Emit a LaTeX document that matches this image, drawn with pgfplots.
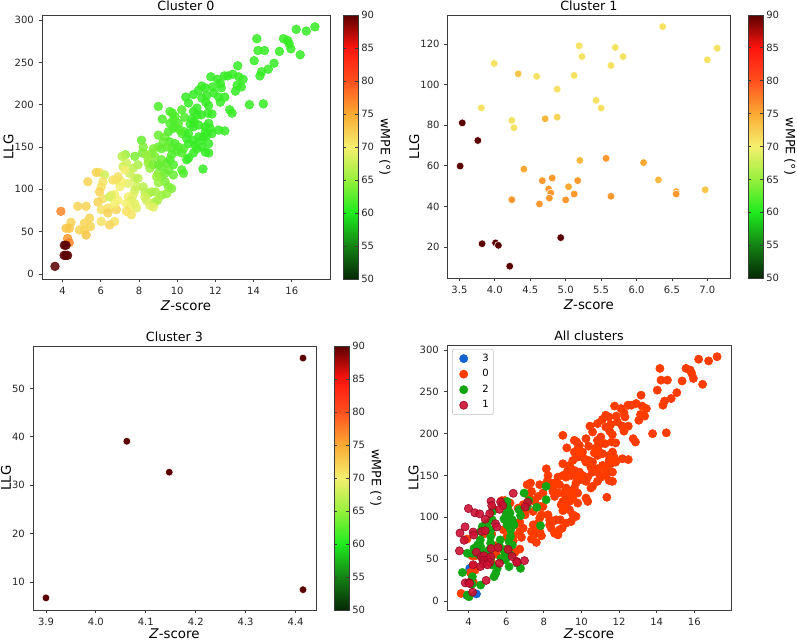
\documentclass[border=0pt]{standalone}
\usepackage{pgfplots}
\pgfplotsset{compat=1.18}
\usepackage{pgfplotstable}
\usepackage{fontspec}
\setmainfont{DejaVu Sans}
\definecolor{cthree}{RGB}{20,100,210}
\definecolor{czero}{RGB}{255,60,0}
\definecolor{ctwo}{RGB}{20,165,20}
\definecolor{cone}{RGB}{205,15,50}
\definecolor{framec}{RGB}{60,60,60}

\pgfplotstableread{
x y c
17.21 292 61
16.76 287 61
16.23 289 61
14.17 278 61
15.56 278 61
15.78 276 61
15.86 272 61
15.95 266 61
16.44 259 61
14.23 264 61
14.57 264 61
15.35 263 61
14.03 252 61
15.07 249 61
14.77 242 61
14.42 239 61
14.33 234 61
13.17 246 61
11.76 233 61
12.47 234 61
12.65 234 61
12.91 236 61
13.22 233 61
13.45 230 61
13.14 223 61
13.36 221 61
13.05 216 61
12.10 230 61
11.29 222 61
11.46 220 61
11.11 217 61
10.85 212 61
11.85 221 61
11.91 214 61
12.26 225 61
12.31 220 61
12.17 209 61
12.26 203 61
12.49 209 61
11.55 211 61
11.50 203 61
11.29 208 61
11.64 199 61
11.61 190 61
11.82 189 61
11.03 196 61
10.85 192 61
11.03 188 61
12.75 194 61
12.87 190 61
13.78 200 61
14.51 201 61
10.45 209 61
10.59 202 61
11.26 188 61
10.24 194 62
10.38 185 62
10.77 183 61
10.89 180 61
10.68 177 61
10.85 174 61
11.12 176 61
11.47 174 61
11.65 178 61
11.73 172 61
11.47 168 61
11.56 164 61
11.38 162 61
11.82 166 61
12.17 170 61
12.49 169 61
9.89 186 62
9.62 192 62
9.75 190 62
9.80 182 62
9.89 174 62
10.06 178 62
9.80 172 62
10.15 170 62
10.24 166 62
10.38 168 62
10.59 166 61
10.50 160 61
10.59 154 61
10.85 158 61
10.94 152 61
11.12 162 61
11.29 158 61
11.03 148 61
11.29 150 61
11.65 154 61
11.47 144 61
11.65 143 61
10.85 143 61
10.59 137 61
10.50 135 61
11.35 124 61
9.01 198 62
9.22 183 62
9.62 178 62
9.54 168 62
9.36 162 63
9.62 156 62
9.89 154 62
10.06 150 62
10.33 148 62
10.24 143 62
9.98 145 62
9.71 149 62
9.45 150 63
9.18 148 63
9.01 150 63
9.27 156 63
9.01 164 63
9.18 135 63
8.83 139 64
8.75 148 64
8.66 142 64
8.48 135 65
8.13 158 63
8.22 150 64
8.17 143 64
8.39 141 65
8.48 131 65
8.57 125 65
8.75 129 64
9.01 129 63
9.18 127 63
9.45 131 63
9.62 135 62
9.71 141 62
9.80 129 62
9.54 123 63
9.36 119 63
9.01 119 64
9.18 115 64
9.36 109 64
9.01 108 65
8.92 115 65
9.54 103 64
9.71 101 64
9.45 95 65
9.18 93 65
8.87 97 66
9.80 117 63
10.33 119 62
10.24 123 62
7.78 139 64
7.95 129 66
7.69 125 67
7.51 119 68
7.78 113 68
7.87 103 68
7.78 99 68
7.69 93 69
7.43 91 70
7.60 87 69
7.51 80 70
7.34 83 70
7.78 83 69
7.87 78 69
7.60 70 71
7.34 74 71
7.16 127 68
7.29 141 65
7.11 139 67
7.34 131 68
7.25 123 70
7.43 107 69
7.08 109 70
6.90 115 71
6.81 111 71
7.00 103 70
6.72 94 70
6.90 87 70
6.81 76 72
6.72 62 71
6.46 58 72
7.95 113 67
8.22 103 67
8.31 97 67
8.48 95 67
8.66 97 66
8.39 87 68
8.57 81 69
8.83 85 67
8.97 87 66
8.75 79 69
8.31 91 68
5.93 120 71
5.76 120 72
6.20 117 68
6.11 109 71
6.02 103 71
5.93 97 72
6.11 89 71
5.85 85 72
6.02 76 71
6.37 78 71
6.37 72 72
6.02 62 71
6.46 91 68
6.72 83 70
6.55 93 69
6.63 111 71
5.32 109 72
5.23 80 72
5.41 66 72
5.46 56 72
5.14 60 72
5.14 52 72
5.23 46 73
4.88 52 72
4.79 80 72
4.44 61 72
4.18 54 73
4.35 54 73
4.26 42 76
4.35 37 77
4.18 34 90
4.09 34 90
3.91 74 77
4.08 22 90
4.17 22 90
4.26 22 90
3.60 9 90
}\clusterzero

\pgfplotstableread{
x y c
6.37 128.7 71
7.14 118.0 71
7.00 112.3 71
5.19 119.2 71
5.23 113.9 71
5.70 118.4 71
5.81 113.9 71
5.64 109.5 71
5.12 104.6 71
3.99 110.5 71
4.33 105.4 73
4.59 104.1 71
4.88 97.8 71
5.43 92.3 71
5.50 88.5 71
3.81 88.6 71
4.24 82.4 71
4.27 78.8 71
4.71 83.2 74
4.88 84.0 72
3.54 81.2 90
3.76 72.5 90
3.51 59.9 90
3.82 21.6 90
4.01 22.0 90
4.05 20.8 90
4.21 10.5 90
4.93 24.6 90
4.41 58.4 75
4.67 52.7 76
4.81 54.0 76
4.76 48.6 76
4.79 46.6 76
4.77 44.1 76
4.24 43.3 76
4.63 41.2 76
5.04 49.7 75
5.17 52.7 76
5.20 62.7 74
5.12 46.1 76
5.00 43.2 76
5.57 63.7 76
5.64 45.0 76
6.10 61.6 75
6.31 53.1 74
6.56 47.3 75
6.56 46.1 76
6.97 48.2 73
}\clusterone

\pgfplotstableread{
x y
8.12 137
8.12 121
7.62 112
7.82 90
6.95 129
7.20 120
7.12 113
6.68 109
6.76 102
6.04 119
6.07 112
6.20 105
6.00 104
5.88 98
6.18 95
6.04 91
6.32 97
6.41 91
6.23 85
6.23 77
6.15 71
6.32 67
6.09 62
5.96 57
6.23 55
5.96 49
6.59 45
6.76 39
6.15 41
5.44 33
5.35 29
5.17 77
5.17 69
5.08 61
4.64 65
4.73 59
4.55 55
4.29 63
4.20 57
3.93 57
5.17 51
5.26 43
5.52 39
3.67 34
4.20 29
4.64 19
3.93 7
4.02 5
4.99 93
5.25 97
5.17 85
4.73 89
4.64 83
5.68 73
5.65 65
5.72 51
5.86 61
5.27 107
4.62 73
4.18 20
4.48 67
}\clustertwo

\pgfplotstableread{
x y c
3.900 6.7 90
4.062 39.1 90
4.147 32.7 90
4.415 56.3 90
4.415 8.4 90
}\clusterthree

\pgfplotsset{
  colormap={wmpe}{rgb255=(5,40,5) rgb255=(20,130,20) rgb255=(30,235,30) rgb255=(150,240,60) rgb255=(245,240,110) rgb255=(250,170,50) rgb255=(255,80,30) rgb255=(255,20,15) rgb255=(90,0,0)},
  panel/.style={
    scale only axis, anchor=south west,
    axis line style={framec, line width=0.6pt},
    tick align=outside, tick pos=left,
    major tick length=2.6pt,
    tick style={framec, line width=0.6pt},
    ticklabel style={font=\fontsize{7.5}{9}\selectfont, text=black!85},
    label style={font=\fontsize{10}{12}\selectfont},
    title style={font=\fontsize{9.5}{11}\selectfont, yshift=-6.3pt},
    /pgf/number format/assume math mode=true,
    scaled ticks=false,
    ylabel={LLG}, xlabel={\textit{Z}-score},
    xlabel style={yshift=2pt},
    ylabel shift=-6pt,
  },
  bottomrow/.style={xlabel style={yshift=2.5pt}},
  cbar/.style={
    colorbar, colormap name=wmpe, point meta min=50, point meta max=90,
    colorbar style={
      at={(parent axis.north east)}, anchor=north west, xshift={#1-0.3cm},
      width=11.25pt,
      ytick={50,55,...,90},
      yticklabel style={font=\fontsize{7.5}{9}\selectfont, text=black!85, xshift=-1pt},
      axis line style={framec, line width=0.6pt},
      major tick length=2.6pt,
      tick style={framec, line width=0.6pt},
      ylabel={wMPE (°)},
      ylabel shift=-3pt,
      ylabel style={rotate=180, anchor=south, font=\fontsize{9.5}{11}\selectfont},
      /pgf/number format/assume math mode=true,
    },
  },
  cmark/.style={scatter, only marks, mark=*, scatter src=explicit},
}

\begin{document}
\begin{tikzpicture}
\path[use as bounding box] (0,0) rectangle (597.75pt,480.75pt);

% Cluster 0
\begin{axis}[panel, cbar=9.75pt,
  at={(31.5pt,271.5pt)}, width=216pt, height=198pt,
  title={Cluster 0},
  xmin=2.92, xmax=18.0, ymin=-5.9, ymax=306,
  xtick={4,6,...,16}, ytick={0,50,...,300}]
\addplot[cmark, mark size=3.3pt, opacity=0.85,
  scatter/use mapped color={draw=mapped color, fill=mapped color}]
  table[x=x, y=y, meta=c] {\clusterzero};
\end{axis}

% Cluster 1
\begin{axis}[panel, cbar=13.5pt,
  at={(335.8pt,272.25pt)}, width=211.7pt, height=197.25pt,
  title={Cluster 1},
  xmin=3.335, xmax=7.32, ymin=4.7, ymax=134.4,
  xtick={3.5,4.0,...,7.0}, ytick={20,40,...,120},
  xticklabel style={/pgf/number format/.cd, fixed, fixed zerofill, precision=1}]
\addplot[cmark, mark size=2.9pt, line width=0.4pt,
  scatter/use mapped color={draw=white, fill=mapped color}]
  table[x=x, y=y, meta=c] {\clusterone};
\end{axis}

% Cluster 3
\begin{axis}[panel, bottomrow, cbar=13.5pt,
  at={(24.75pt,23.25pt)}, width=212.25pt, height=198pt,
  title={Cluster 3},
  xmin=3.874, xmax=4.441, ymin=4.2, ymax=58.8,
  xtick={3.9,4.0,...,4.4}, ytick={10,20,...,50},
  xticklabel style={/pgf/number format/.cd, fixed, fixed zerofill, precision=1}]
\addplot[cmark, mark size=2.9pt, line width=0.4pt,
  scatter/use mapped color={draw=white, fill=mapped color}]
  table[x=x, y=y, meta=c] {\clusterthree};
\end{axis}

% All clusters
\begin{axis}[panel, bottomrow,
  at={(335.25pt,23.25pt)}, width=213pt, height=198.75pt,
  title={All clusters},
  xmin=2.85, xmax=17.95, ymin=-10.8, ymax=306,
  xtick={4,6,...,16}, ytick={0,50,...,300},
  legend style={at={(0.018,0.985)}, anchor=north west, draw=black!25,
    rounded corners=1.5pt, font=\fontsize{7.5}{9}\selectfont,
    row sep=0.6pt, inner sep=1.5pt},
  legend cell align=left,
  legend image code/.code={\path[draw=none, fill=none] (0pt,0pt) -- (19pt,0pt);
    \draw[#1] plot coordinates {(7pt,0pt)};}]
\addplot[only marks, mark=*, mark size=3.1pt, color=cthree] table[x=x, y=y] {\clusterthree};
\addlegendentry{3}
\addplot[only marks, mark=*, mark size=3.1pt, color=czero] table[x=x, y=y] {\clusterzero};
\addlegendentry{0}
\addplot[only marks, mark=*, mark size=3.1pt, color=ctwo] table[x=x, y=y] {\clustertwo};
\addlegendentry{2}
\addplot[only marks, mark=*, mark size=3.1pt, color=cone, fill opacity=0.9, draw=cone!70!black] table[x=x, y=y] {\clusterone};
\addlegendentry{1}
\end{axis}
\end{tikzpicture}
\end{document}
